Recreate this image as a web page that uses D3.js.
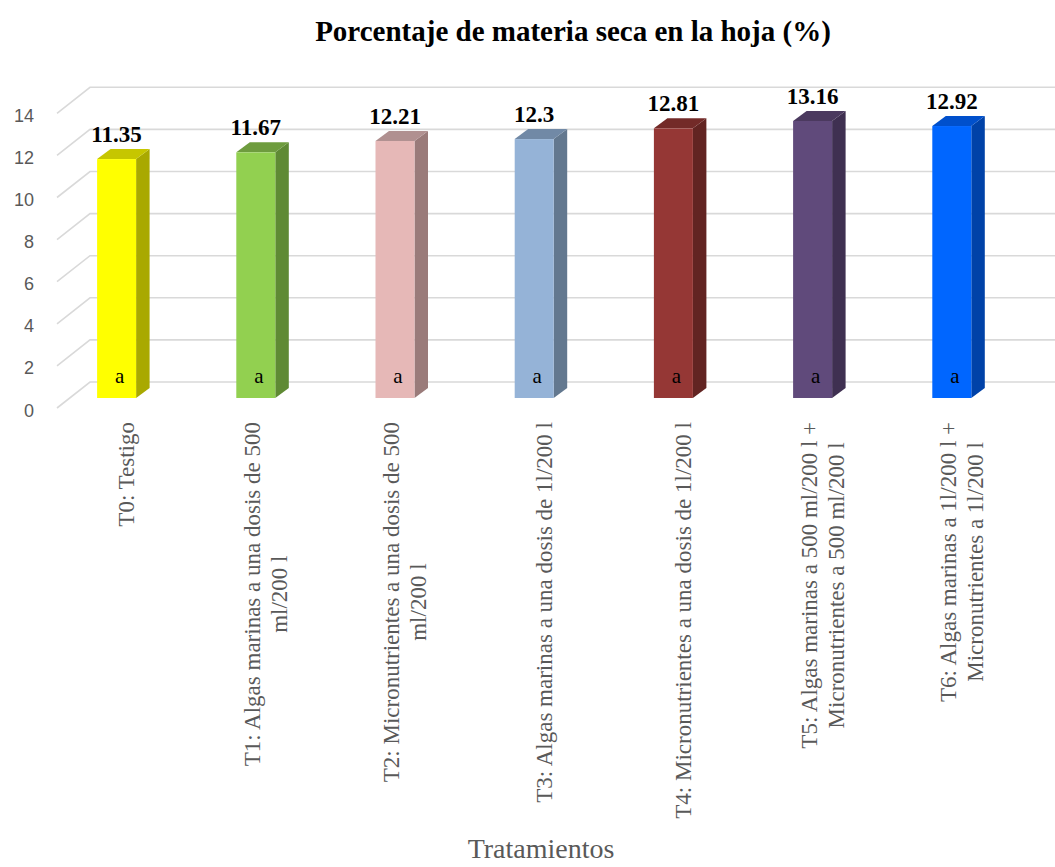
<!DOCTYPE html>
<html>
<head>
<meta charset="utf-8">
<script src="https://cdn.jsdelivr.net/npm/d3@7"></script>
<style>
  html, body { margin: 0; padding: 0; background: #fff; }
  svg { display: block; }
</style>
</head>
<body>
<svg id="chart" width="1055" height="867"></svg>
<script>
const categories = ["T0", "T1", "T2", "T3", "T4", "T5", "T6"];
const values = [11.35, 11.67, 12.21, 12.3, 12.81, 13.16, 12.92];
const letters = ["a", "a", "a", "a", "a", "a", "a"];
const labelLines = [
  ["T0: Testigo"],
  ["T1: Algas marinas a una dosis de 500", "ml/200 l"],
  ["T2: Micronutrientes a una dosis de 500", "ml/200 l"],
  ["T3: Algas marinas a una dosis de 1l/200 l"],
  ["T4: Micronutrientes a una dosis de 1l/200 l"],
  ["T5: Algas marinas a 500 ml/200 l +", "Micronutrientes a 500 ml/200 l"],
  ["T6: Algas marinas a 1l/200 l +", "Micronutrientes a 1l/200 l"]
];
const frontColors = ["#FFFF00", "#92D050", "#E6B8B7", "#95B3D7", "#953735", "#604A7B", "#0066FF"];
const sideColors  = ["#A9A900", "#5F8A34", "#9A7B7A", "#63788F", "#622422", "#3F3051", "#0042A8"];
const topColors   = ["#C6C600", "#6E9C3E", "#B09090", "#7189A6", "#732A28", "#4B3A5F", "#0050CC"];
const yTicks = [0, 2, 4, 6, 8, 10, 12, 14];
const chartTitle = "Porcentaje de materia seca en la hoja (%)";
const xTitle = "Tratamientos";

const svg = d3.select("#chart");
const serif = "'Times New Roman', 'Liberation Serif', serif";

// bar plane scale
const y = d3.scaleLinear().domain([0, 14]).range([398, 398 - 14 * 21.05]);
const x = d3.scaleBand().domain(categories).range([47, 1021.4]).padding(0);
const barW = 39;
const depth = { dx: 13.5, dy: -10 };
const frontOff = { dx: -12.7, dy: 10 };
const backOff = { dx: 20.3, dy: -16 };

// gridlines
const grid = svg.append("g");
yTicks.forEach(t => {
  const yf = y(t) + frontOff.dy, yb = y(t) + backOff.dy;
  grid.append("path")
    .attr("d", `M57,${yf}L90,${yb}L1055,${yb}`)
    .attr("fill", "none").attr("stroke", "#D9D9D9").attr("stroke-width", 1.6);
});

// y tick labels
svg.append("g").selectAll("text").data(yTicks).join("text")
  .attr("x", 34).attr("y", d => y(d) + frontOff.dy + 2.5)
  .attr("text-anchor", "end").attr("dominant-baseline", "central")
  .attr("font-family", "'Liberation Sans', Arial, sans-serif").attr("font-size", 18)
  .attr("fill", "#595959").text(d => d);

// bars
const bars = svg.append("g").selectAll("g").data(categories).join("g");
bars.each(function(c, i) {
  const g = d3.select(this);
  const cx = x(c) + x.bandwidth() / 2;
  const x0 = cx - barW / 2, x1 = cx + barW / 2;
  const yt = y(values[i]), yb = y(0);
  g.append("path")
    .attr("d", `M${x1},${yt}L${x1 + depth.dx},${yt + depth.dy}L${x1 + depth.dx},${yb + depth.dy}L${x1},${yb}Z`)
    .attr("fill", sideColors[i]);
  g.append("path")
    .attr("d", `M${x0},${yt}L${x0 + depth.dx},${yt + depth.dy}L${x1 + depth.dx},${yt + depth.dy}L${x1},${yt}Z`)
    .attr("fill", topColors[i]);
  g.append("rect").attr("x", x0).attr("y", yt).attr("width", barW).attr("height", yb - yt)
    .attr("fill", frontColors[i]);
  g.append("text").attr("x", cx).attr("y", yt - 17)
    .attr("text-anchor", "middle").attr("font-family", serif).attr("font-weight", "bold")
    .attr("font-size", 23).attr("fill", "#000").text(values[i]);
  g.append("text").attr("x", cx + 3).attr("y", 383)
    .attr("text-anchor", "middle").attr("font-family", serif)
    .attr("font-size", 21).attr("fill", "#000").text(letters[i]);
});

// x labels (rotated)
const xl = svg.append("g");
categories.forEach((c, i) => {
  const cx = x(c) + x.bandwidth() / 2;
  const lines = labelLines[i];
  const n = lines.length;
  const g = xl.append("g");
  const texts = lines.map((ln, k) => {
    const bx = cx + 10 + (k - (n - 1) / 2) * 27 + 7.5;
    return g.append("text")
      .attr("font-family", serif).attr("font-size", 23).attr("fill", "#595959")
      .attr("text-anchor", "middle")
      .attr("data-bx", bx)
      .text(ln);
  });
  const maxLen = d3.max(texts, t => t.node().getComputedTextLength());
  const centerY = 422 + maxLen / 2;
  texts.forEach(t => {
    const bx = +t.attr("data-bx");
    t.attr("transform", `translate(${bx},${centerY}) rotate(-90)`).attr("x", 0).attr("y", 0);
  });
});

// titles
svg.append("text").attr("x", 573).attr("y", 41).attr("text-anchor", "middle")
  .attr("font-family", serif).attr("font-weight", "bold").attr("font-size", 29)
  .attr("fill", "#000").text(chartTitle);
svg.append("text").attr("x", 541).attr("y", 858).attr("text-anchor", "middle")
  .attr("font-family", serif).attr("font-size", 28)
  .attr("fill", "#595959").text(xTitle);
</script>
</body>
</html>
